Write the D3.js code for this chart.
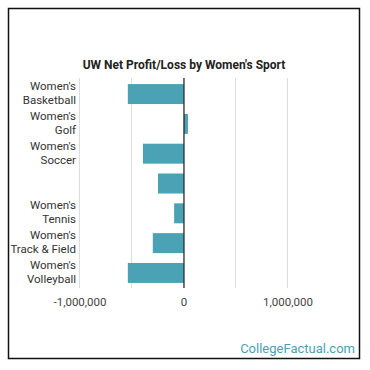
<!DOCTYPE html>
<html>
<head>
<meta charset="utf-8">
<script src="https://cdn.jsdelivr.net/npm/d3@7"></script>
<style>
  body { margin: 0; background: #fff; }
  svg { display: block; font-family: Roboto, "Open Sans", sans-serif; }
</style>
</head>
<body>
<svg id="canvas" width="370" height="370"></svg>
<script>
// data
let sports = ["Women's\nBasketball", "Women's\nGolf", "Women's\nSoccer", "", "Women's\nTennis", "Women's\nTrack & Field", "Women's\nVolleyball"];
let profit = [-540000, 38000, -395000, -250000, -95000, -300000, -540000];
let tickValues = [-1000000, -500000, 0, 500000, 1000000];
let tickLabels = ["-1,000,000", "", "0", "", "1,000,000"];

let canvas = d3.select('#canvas');

// outer frame
canvas.append('rect')
    .attr('x', 8.5).attr('y', 8.5)
    .attr('width', 351).attr('height', 350)
    .attr('fill', '#fff')
    .attr('stroke', '#111')
    .attr('stroke-width', 1.5);

let xScale = d3.scaleLinear()
    .domain([-1000000, 1500000])
    .range([80, 340]);

let yScale = d3.scaleBand()
    .domain(d3.range(sports.length))
    .range([79, 288])
    .paddingInner(0.33)
    .paddingOuter(0.17);

// title
canvas.append('text')
    .attr('x', 184)
    .attr('y', 69)
    .attr('text-anchor', 'middle')
    .attr('font-size', 12)
    .attr('font-weight', 'bold')
    .attr('fill', '#222')
    .text("UW Net Profit/Loss by Women's Sport");

// gridlines
canvas.selectAll('line.grid')
    .data(tickValues)
    .enter()
    .append('line')
    .attr('class', 'grid')
    .attr('x1', d => xScale(d) - 0.5)
    .attr('x2', d => xScale(d) - 0.5)
    .attr('y1', 78)
    .attr('y2', 288)
    .attr('stroke', '#ddd')
    .attr('stroke-width', 1);

// bars
canvas.selectAll('rect.bar')
    .data(profit)
    .enter()
    .append('rect')
    .attr('class', 'bar')
    .attr('x', d => xScale(Math.min(0, d)))
    .attr('width', d => Math.abs(xScale(d) - xScale(0)))
    .attr('y', (d, i) => yScale(i))
    .attr('height', yScale.bandwidth())
    .attr('fill', '#4ba2b4');

// zero line
canvas.append('line')
    .attr('x1', xScale(0)).attr('x2', xScale(0))
    .attr('y1', 78).attr('y2', 288)
    .attr('stroke', '#222')
    .attr('stroke-width', 1.2);

// category labels, two lines each
sports.forEach((s, i) => {
    let lines = s ? s.split('\n') : [];
    let cy = yScale(i) + yScale.bandwidth() / 2;
    let t = canvas.append('text')
        .attr('text-anchor', 'end')
        .attr('font-size', 11.5)
        .attr('fill', '#333');
    lines.forEach((l, j) => {
        t.append('tspan')
            .attr('x', 76)
            .attr('y', cy + 3 + (j - 0.5) * 14)
            .text(l);
    });
});

// x tick labels
canvas.selectAll('text.tick')
    .data(tickValues)
    .enter()
    .append('text')
    .attr('class', 'tick')
    .attr('x', d => xScale(d))
    .attr('y', 306)
    .attr('text-anchor', 'middle')
    .attr('font-size', 11.5)
    .attr('fill', '#444')
    .text((d, i) => tickLabels[i]);

// watermark
canvas.append('text')
    .attr('x', 355)
    .attr('y', 353)
    .attr('text-anchor', 'end')
    .attr('font-size', 13)
    .attr('fill', '#4a9fb5')
    .text('CollegeFactual.com');
</script>
</body>
</html>
